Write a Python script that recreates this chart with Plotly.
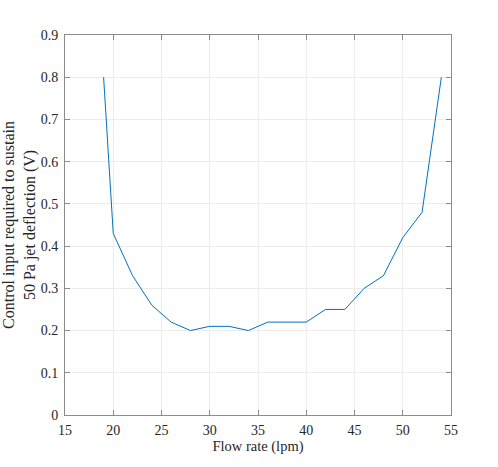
import plotly.graph_objects as go

# Flow rate (lpm) and control voltage needed for 50 Pa jet deflection
flow_rate = [19, 20, 22, 24, 26, 28, 30, 32, 34, 36, 38, 40, 42, 44, 46, 48, 50, 52, 54]
control_v = [0.80, 0.43, 0.33, 0.26, 0.22, 0.20, 0.21, 0.21, 0.20, 0.22, 0.22, 0.22,
             0.25, 0.25, 0.30, 0.33, 0.42, 0.48, 0.80]

x_ticks = [15, 20, 25, 30, 35, 40, 45, 50, 55]
y_ticks = [0, 0.1, 0.2, 0.3, 0.4, 0.5, 0.6, 0.7, 0.8, 0.9]

SERIF = "Liberation Serif"

fig = go.Figure(go.Scatter(
    x=flow_rate,
    y=control_v,
    mode="lines",
    line=dict(color="#0072BD", width=1),
    showlegend=False,
))

axis_style = dict(
    automargin=False,
    showline=True,
    linecolor="#8c8c8c",
    linewidth=1,
    mirror="ticks",
    ticks="inside",
    ticklen=5,
    tickcolor="#8c8c8c",
    showgrid=True,
    gridcolor="#ececec",
    gridwidth=1,
    zeroline=False,
    tickfont=dict(family=SERIF, size=14, color="#262626"),
)

fig.update_xaxes(
    range=[15, 55],
    tickvals=x_ticks,
    ticktext=[str(v) for v in x_ticks],
    ticklabelstandoff=2,
    title=dict(text="Flow rate (lpm)", font=dict(family=SERIF, size=14.5, color="#262626"), standoff=4),
    **axis_style,
)
fig.update_yaxes(
    range=[0, 0.9],
    tickvals=y_ticks,
    ticktext=["0"] + ["%.1f" % v for v in y_ticks[1:]],
    ticklabelstandoff=3,
    title=dict(text="Control input required to sustain<br>50 Pa jet deflection (V)",
               font=dict(family=SERIF, size=16, color="#262626"), standoff=4),
    **axis_style,
)

fig.update_layout(
    width=498,
    height=467,
    margin=dict(l=65, r=47, t=35, b=52, autoexpand=False),
    plot_bgcolor="white",
    paper_bgcolor="white",
    font=dict(family=SERIF, color="#262626"),
)

# drop the default 8px body margin so the figure sits at the window corner
fig.write_html("out.html", config={"displayModeBar": False},
               post_script="document.body.style.margin = '0px';")
